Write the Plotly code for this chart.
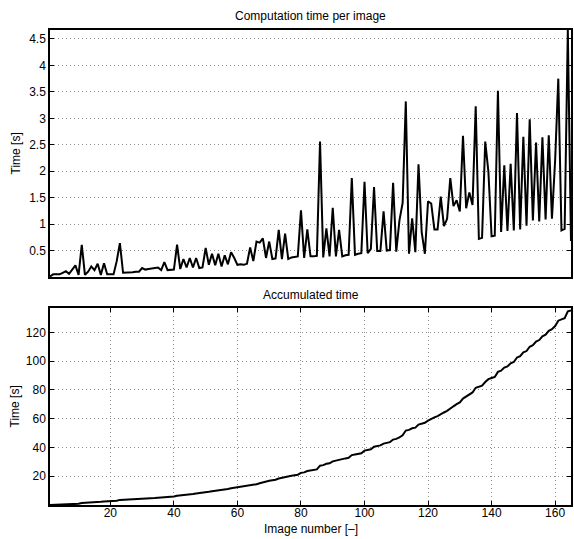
import numpy as np
import plotly.graph_objects as go

# computation time per image [s], images 1..165
image_number = list(range(1, 166))
time_per_image = [
    0.01, 0.05, 0.05, 0.05, 0.08, 0.11, 0.06, 0.15, 0.22, 0.04,
    0.61, 0.04, 0.10, 0.20, 0.13, 0.25, 0.04, 0.26, 0.05, 0.05,
    0.05, 0.30, 0.64, 0.08, 0.08, 0.09, 0.09, 0.10, 0.10, 0.17,
    0.14, 0.15, 0.16, 0.17, 0.18, 0.13, 0.28, 0.13, 0.13, 0.14,
    0.61, 0.15, 0.34, 0.18, 0.36, 0.18, 0.36, 0.17, 0.18, 0.55,
    0.23, 0.44, 0.22, 0.44, 0.20, 0.41, 0.24, 0.47, 0.36, 0.23,
    0.24, 0.23, 0.25, 0.56, 0.30, 0.67, 0.65, 0.73, 0.36, 0.67,
    0.34, 0.35, 0.89, 0.34, 0.82, 0.34, 0.37, 0.38, 0.39, 1.26,
    0.36, 0.90, 0.39, 0.39, 0.40, 2.56, 0.37, 0.92, 0.39, 1.31,
    0.39, 0.89, 0.39, 0.41, 0.42, 1.87, 0.42, 0.44, 0.45, 1.80,
    0.45, 0.53, 1.70, 0.49, 0.49, 1.24, 0.50, 0.51, 1.78, 0.48,
    1.07, 1.40, 3.32, 0.44, 1.11, 0.47, 2.13, 0.85, 0.44, 1.43,
    1.39, 0.90, 0.90, 1.52, 0.96, 1.10, 1.87, 1.34, 1.45, 1.24,
    2.67, 1.30, 1.60, 1.36, 3.23, 0.72, 0.74, 2.56, 1.99, 0.77,
    0.78, 3.52, 0.85, 2.11, 0.87, 2.14, 0.88, 3.10, 0.90, 2.65,
    0.97, 2.98, 1.07, 2.54, 1.05, 2.64, 1.09, 2.68, 1.10, 2.20,
    3.75, 0.88, 0.91, 4.67, 0.68,
]
accumulated_time = np.cumsum(time_per_image)

top_yticks = [0.5, 1, 1.5, 2, 2.5, 3, 3.5, 4, 4.5]
bottom_yticks = [20, 40, 60, 80, 100, 120]
bottom_xticks = [20, 40, 60, 80, 100, 120, 140, 160]

font = dict(family="Liberation Sans, Arial, sans-serif", size=12, color="black")
axis_style = dict(showgrid=True, gridcolor="#8c8c8c", griddash="1px,3px", gridwidth=1,
                  zeroline=False, showline=True, mirror="ticks", linecolor="black",
                  linewidth=1.5, ticks="inside", ticklen=4, tickcolor="black",
                  tickfont=font)

fig = go.Figure()
fig.add_trace(go.Scatter(x=image_number, y=time_per_image, mode="lines",
                         line=dict(color="black", width=2), xaxis="x", yaxis="y"))
fig.add_trace(go.Scatter(x=image_number, y=accumulated_time, mode="lines",
                         line=dict(color="black", width=2), xaxis="x2", yaxis="y2"))

fig.update_layout(
    width=574, height=539,
    margin=dict(l=50, r=1, t=30, b=34),
    paper_bgcolor="white", plot_bgcolor="white",
    font=font, showlegend=False,
    xaxis=dict(domain=[0, 1], range=[1, 165], anchor="y", showticklabels=False,
               **{**axis_style, "showgrid": False, "ticks": "", "mirror": True}),
    yaxis=dict(domain=[0.48, 1], range=[0.0, 4.67], anchor="x", tickvals=top_yticks,
               **axis_style),
    xaxis2=dict(domain=[0, 1], range=[1, 165], anchor="y2", tickvals=bottom_xticks,
                ticklabelstandoff=-4, **axis_style),
    yaxis2=dict(domain=[0, 0.415], range=[0, 137], anchor="x2", tickvals=bottom_yticks,
                **axis_style),
    annotations=[
        dict(text="Computation time per image", xref="paper", yref="paper", x=0.5, y=1,
             yshift=14, yanchor="middle", showarrow=False, font=font),
        dict(text="Accumulated time", xref="paper", yref="paper", x=0.5, y=0.415,
             yshift=13, yanchor="middle", showarrow=False, font=font),
        dict(text="Image number [–]", xref="paper", yref="paper", x=0.5, y=0,
             yshift=-15, yanchor="top", showarrow=False, font=font),
        dict(text="Time [s]", xref="paper", yref="paper", x=0, y=0.74,
             xshift=-35, xanchor="center", yanchor="middle", textangle=-90,
             showarrow=False, font=font),
        dict(text="Time [s]", xref="paper", yref="paper", x=0, y=0.2075,
             xshift=-35, xanchor="center", yanchor="middle", textangle=-90,
             showarrow=False, font=font),
    ],
)

fig.write_html("out.html", config={"displayModeBar": False},
               post_script="document.body.style.margin='0px';")
